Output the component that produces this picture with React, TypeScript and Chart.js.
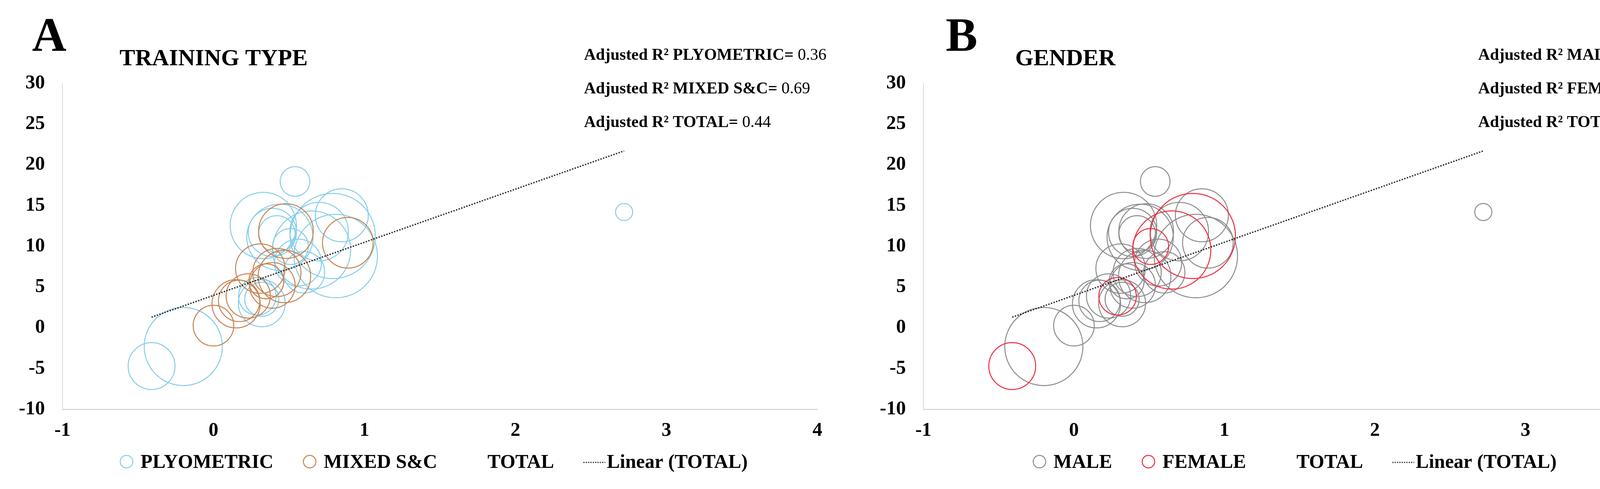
import Chart from "chart.js/auto";
import { useEffect, useRef } from "react";

// one entry per study: effect (y) against predictor (x), bubble weight
const studyX = [2.72, 0.54, -0.41, -0.2, 0.33, 0.85, 0.81, 0.79, 0.65, 0.51, 0.29, 0.0, 0.48, 0.89, 0.15, 0.31, 0.39, 0.42, 0.47, 0.23, 0.44, 0.39, 0.42, 0.32, 0.32, 0.56, 0.6, 0.7, 0.17, 0.35];
const studyY = [14.2, 17.95, -4.7, -2.3, 12.55, 13.8, 8.8, 11.26, 9.54, 9.97, 3.86, 0.26, 11.86, 10.43, 2.94, 7.26, 5.2, 6.78, 6.3, 3.9, 11.1, 11.7, 11.5, 3.0, 3.5, 8.0, 6.8, 11.8, 3.3, 5.7];
const studyWeight = [4.8, 14.4, 36, 100, 72, 46, 114, 119, 100, 21, 23, 27, 49, 42, 38, 40, 34, 38, 45, 32, 72, 38, 22, 36, 19, 36, 28, 56, 28, 20];
const studyType = ["P", "P", "P", "P", "P", "P", "P", "P", "P", "P", "P", "M", "M", "M", "M", "M", "M", "M", "M", "M", "P", "P", "P", "P", "P", "P", "P", "P", "M", "M"];
const studyGender = ["M", "M", "F", "M", "M", "M", "M", "F", "F", "F", "F", "M", "M", "M", "M", "M", "M", "M", "M", "M", "M", "M", "M", "M", "M", "M", "M", "M", "M", "M"];

// Linear (TOTAL) trendline end points
const trendX = [-0.41, 2.72];
const trendY = [1.3, 21.7];

const xTicks = [-1, 0, 1, 2, 3, 4];
const yTicks = [-10, -5, 0, 5, 10, 15, 20, 25, 30];

const SERIF = '"Liberation Serif", "Times New Roman", Times, serif';
const AXIS_GRAY = "#d9d9d9";

type Group = { label: string; code: string; color: string };

type PanelProps = {
  width: number;
  plotRight: number;
  letter: string;
  letterX: number;
  title: string;
  titleX: number;
  notes: [string, string][];
  noteX: number;
  groups: Group[];
  codes: string[];
};

const bubbleRadius = (w: number) => 10 * Math.sqrt(w);

function Panel(props: PanelProps) {
  const canvasRef = useRef<HTMLCanvasElement>(null);

  useEffect(() => {
    if (!canvasRef.current) return;
    const idx = studyX.map((_, i) => i);
    const toPoint = (i: number) => ({
      x: studyX[i],
      y: studyY[i],
      r: bubbleRadius(studyWeight[i]),
    });

    const groupSets = props.groups.map((g, k) => ({
      type: "bubble" as const,
      label: g.label,
      data: idx.filter((i) => props.codes[i] === g.code).map(toPoint),
      borderColor: g.color,
      backgroundColor: "rgba(0,0,0,0)",
      borderWidth: 2.5,
      order: 3 - k,
    }));

    // decorations: panel letter, title, R² notes and the legend
    const decor = {
      id: "decor",
      afterDraw(chart: Chart) {
        const { ctx } = chart;
        ctx.save();
        ctx.fillStyle = "#000";
        ctx.textAlign = "left";
        ctx.textBaseline = "alphabetic";
        ctx.font = `bold 122px ${SERIF}`;
        ctx.fillText(props.letter, props.letterX, 130);
        ctx.font = `bold 60px ${SERIF}`;
        ctx.fillText(props.title, props.titleX, 167);

        props.notes.forEach(([label, value], i) => {
          const y = 153 + i * 86;
          ctx.font = `bold 42px ${SERIF}`;
          ctx.fillText(label, props.noteX, y);
          const w = ctx.measureText(label).width;
          ctx.font = `42px ${SERIF}`;
          ctx.fillText(value, props.noteX + w, y);
        });

        // legend
        ctx.font = `bold 50px ${SERIF}`;
        const items = chart.data.datasets.map((ds: any) => ({
          label: ds.label as string,
          line: ds.type === "line",
          color: ds.borderColor as string,
          visible: ds.borderWidth > 0,
        }));
        const widths = items.map(
          (it) => (it.line ? 60 : 54) + ctx.measureText(it.label).width
        );
        const spacing = 75;
        const full = widths.reduce((a, b) => a + b, 0) + spacing * (items.length - 1);
        let x = 1110 - full / 2;
        const cy = 1181;
        items.forEach((it, i) => {
          if (it.line) {
            ctx.save();
            ctx.strokeStyle = it.color;
            ctx.lineWidth = 3;
            ctx.setLineDash([3, 3]);
            ctx.beginPath();
            ctx.moveTo(x, cy + 2);
            ctx.lineTo(x + 56, cy + 2);
            ctx.stroke();
            ctx.restore();
            ctx.fillText(it.label, x + 60, 1197);
          } else {
            if (it.visible) {
              ctx.strokeStyle = it.color;
              ctx.lineWidth = 2.5;
              ctx.beginPath();
              ctx.arc(x + 18, cy, 16, 0, Math.PI * 2);
              ctx.stroke();
            }
            ctx.fillText(it.label, x + 54, 1197);
          }
          x += widths[i] + spacing;
        });
        ctx.restore();
      },
    };

    const tickFont = { family: SERIF, size: 50, weight: "bold" as const };

    const chart = new Chart(canvasRef.current, {
      type: "bubble",
      data: {
        datasets: [
          ...groupSets,
          {
            type: "bubble",
            label: "TOTAL",
            data: idx.map(toPoint),
            borderColor: "rgba(0,0,0,0)",
            backgroundColor: "rgba(0,0,0,0)",
            borderWidth: 0,
            order: 1,
          },
          {
            type: "line",
            label: "Linear (TOTAL)",
            data: trendX.map((x, i) => ({ x, y: trendY[i] })),
            borderColor: "#262626",
            borderWidth: 3.5,
            borderDash: [3.5, 3.5],
            pointRadius: 0,
            fill: false,
            order: 0,
          },
        ] as any,
      },
      options: {
        responsive: false,
        animation: false,
        devicePixelRatio: 1,
        events: [],
        layout: {
          padding: { top: 213, right: props.width - props.plotRight, left: 0, bottom: 0 },
        },
        plugins: {
          legend: { display: false },
          tooltip: { enabled: false },
        },
        scales: {
          x: {
            type: "linear",
            min: -1,
            max: 4,
            afterBuildTicks: (s: any) => {
              s.ticks = xTicks.map((value) => ({ value }));
            },
            afterFit: (s: any) => {
              s.height = 204;
            },
            grid: { display: false, drawTicks: false },
            border: { display: true, color: AXIS_GRAY, width: 3 },
            ticks: {
              font: tickFont,
              color: "#000",
              padding: 25,
              maxRotation: 0,
              autoSkip: false,
            },
          },
          y: {
            type: "linear",
            min: -10,
            max: 30,
            afterBuildTicks: (s: any) => {
              s.ticks = yTicks.map((value) => ({ value }));
            },
            afterFit: (s: any) => {
              s.width = 160;
            },
            grid: { display: false, drawTicks: false },
            border: { display: true, color: AXIS_GRAY, width: 2 },
            ticks: {
              font: tickFont,
              color: "#000",
              padding: 45,
              autoSkip: false,
            },
          },
        },
      },
      plugins: [decor],
    });

    return () => {
      chart.destroy();
    };
  }, []);

  return <canvas ref={canvasRef} width={props.width} height={1251} style={{ display: "block" }} />;
}

export default function App() {
  return (
    <div style={{ display: "flex", width: 4402, height: 1251, background: "#fff" }}>
      <style>{"body{margin:0;background:#fff}"}</style>
      <Panel
        width={2204}
        plotRight={2151}
        letter="A"
        letterX={82}
        title="TRAINING TYPE"
        titleX={306}
        notes={[
          ["Adjusted R\u00b2 PLYOMETRIC=", " 0.36"],
          ["Adjusted R\u00b2 MIXED S&C=", " 0.69"],
          ["Adjusted R\u00b2 TOTAL=", " 0.44"],
        ]}
        noteX={1495}
        groups={[
          { label: "PLYOMETRIC", code: "P", color: "#86cdea" },
          { label: "MIXED S&C", code: "M", color: "#c98250" },
        ]}
        codes={studyType}
      />
      <Panel
        width={2198}
        plotRight={2150}
        letter="B"
        letterX={217}
        title="GENDER"
        titleX={395}
        notes={[
          ["Adjusted R\u00b2 MALE=", " 0.34"],
          ["Adjusted R\u00b2 FEMALE=", " 0.96"],
          ["Adjusted R\u00b2 TOTAL=", " 0.44"],
        ]}
        noteX={1580}
        groups={[
          { label: "MALE", code: "M", color: "#8c8c8c" },
          { label: "FEMALE", code: "F", color: "#ef2a3e" },
        ]}
        codes={studyGender}
      />
    </div>
  );
}
